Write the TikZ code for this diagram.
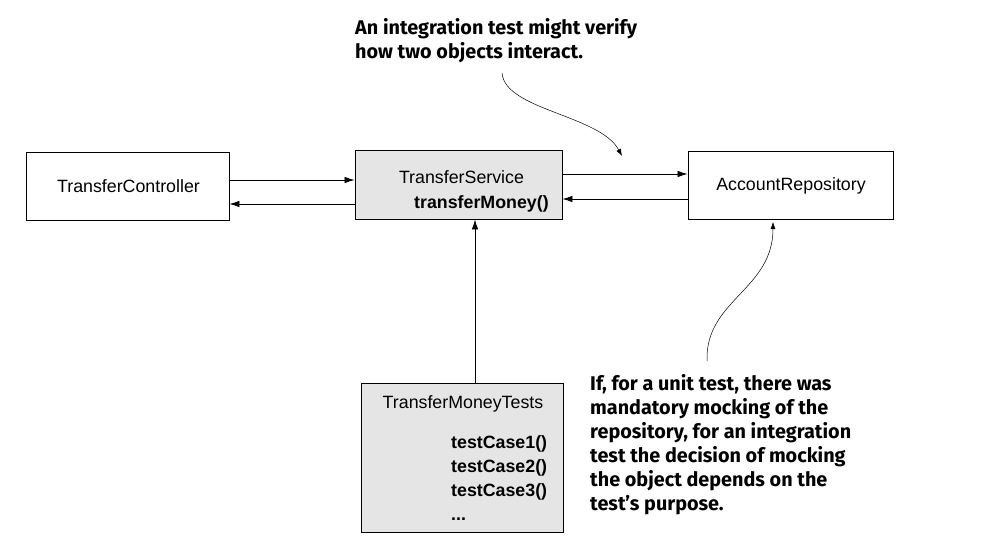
\documentclass[tikz,border=0pt]{standalone}
\usepackage{fontspec}
\setmainfont{Liberation Sans}
\newfontfamily\notefont{Fira Sans}
\usetikzlibrary{arrows.meta}
\begin{document}
\begin{tikzpicture}[x=1pt,y=-1pt,
  box/.style={draw,line width=0.9pt,inner sep=0pt},
  graybox/.style={box,fill=black!10},
  conn/.style={line width=0.8pt,-{Latex[length=10pt,width=6.5pt]}},
  note/.style={font=\notefont\bfseries\fontsize{19.8}{24}\selectfont,align=left,inner sep=0pt,anchor=north west},
  curv/.style={line width=0.5pt,-{Latex[length=7pt,width=5pt]}},
  lbl/.style={font=\fontsize{17.8}{24}\selectfont,inner sep=0pt}]
\useasboundingbox (0,0) rectangle (1002,546);
\node[box,minimum width=203pt,minimum height=68pt] (tc) at (127.5,186) {};
\node[lbl] (tct) at (128.5,186) {TransferController};
\node[graybox,minimum width=207pt,minimum height=69pt] (ts) at (458.5,184.5) {};
\node[lbl] (tst) at (461.5,177) {TransferService};
\node[lbl,font=\bfseries\fontsize{17.8}{24}\selectfont,anchor=west] (tsm) at (414,204) {transferMoney()};
\node[box,minimum width=205pt,minimum height=68pt] (ar) at (790.5,185) {};
\node[lbl] (art) at (791,186) {AccountRepository};
\node[graybox,minimum width=202pt,minimum height=149pt] (tmt) at (462,457.5) {};
\node[lbl] (tmtt) at (463,404) {TransferMoneyTests};
\node[lbl,font=\bfseries\fontsize{17.8}{24}\selectfont,align=left,anchor=north west] (cases) at (451,435) {testCase1()\\testCase2()\\testCase3()\\...};
% connectors
\draw[conn] (tc.east |- 0,180) -- (ts.west |- 0,180);
\draw[conn] (ts.west |- 0,204) -- (tc.east |- 0,204);
\draw[conn] (ts.east |- 0,174) -- (ar.west |- 0,174);
\draw[conn] (ar.west |- 0,199) -- (ts.east |- 0,199);
\draw[conn] (tmt.north -| 475,0) -- (ts.south -| 475,0);
% notes
\node[note] (n1) at (355,18) {An integration test might verify\\how two objects interact.};
\coordinate (n1s) at (502,73);
\coordinate (n1e) at (622,156);
\draw[curv] (n1s) .. controls (505,110) and (600,115) .. (n1e);
\node[note] (n2) at (590,374) {If, for a unit test, there was\\mandatory mocking of the\\repository, for an integration\\test the decision of mocking\\the object depends on the\\test’s purpose.};
\coordinate (n2s) at (707,361);
\coordinate (n2e) at (773,222);
\draw[curv] (n2s) .. controls (705,300) and (773,290) .. (n2e);
\end{tikzpicture}
\end{document}
